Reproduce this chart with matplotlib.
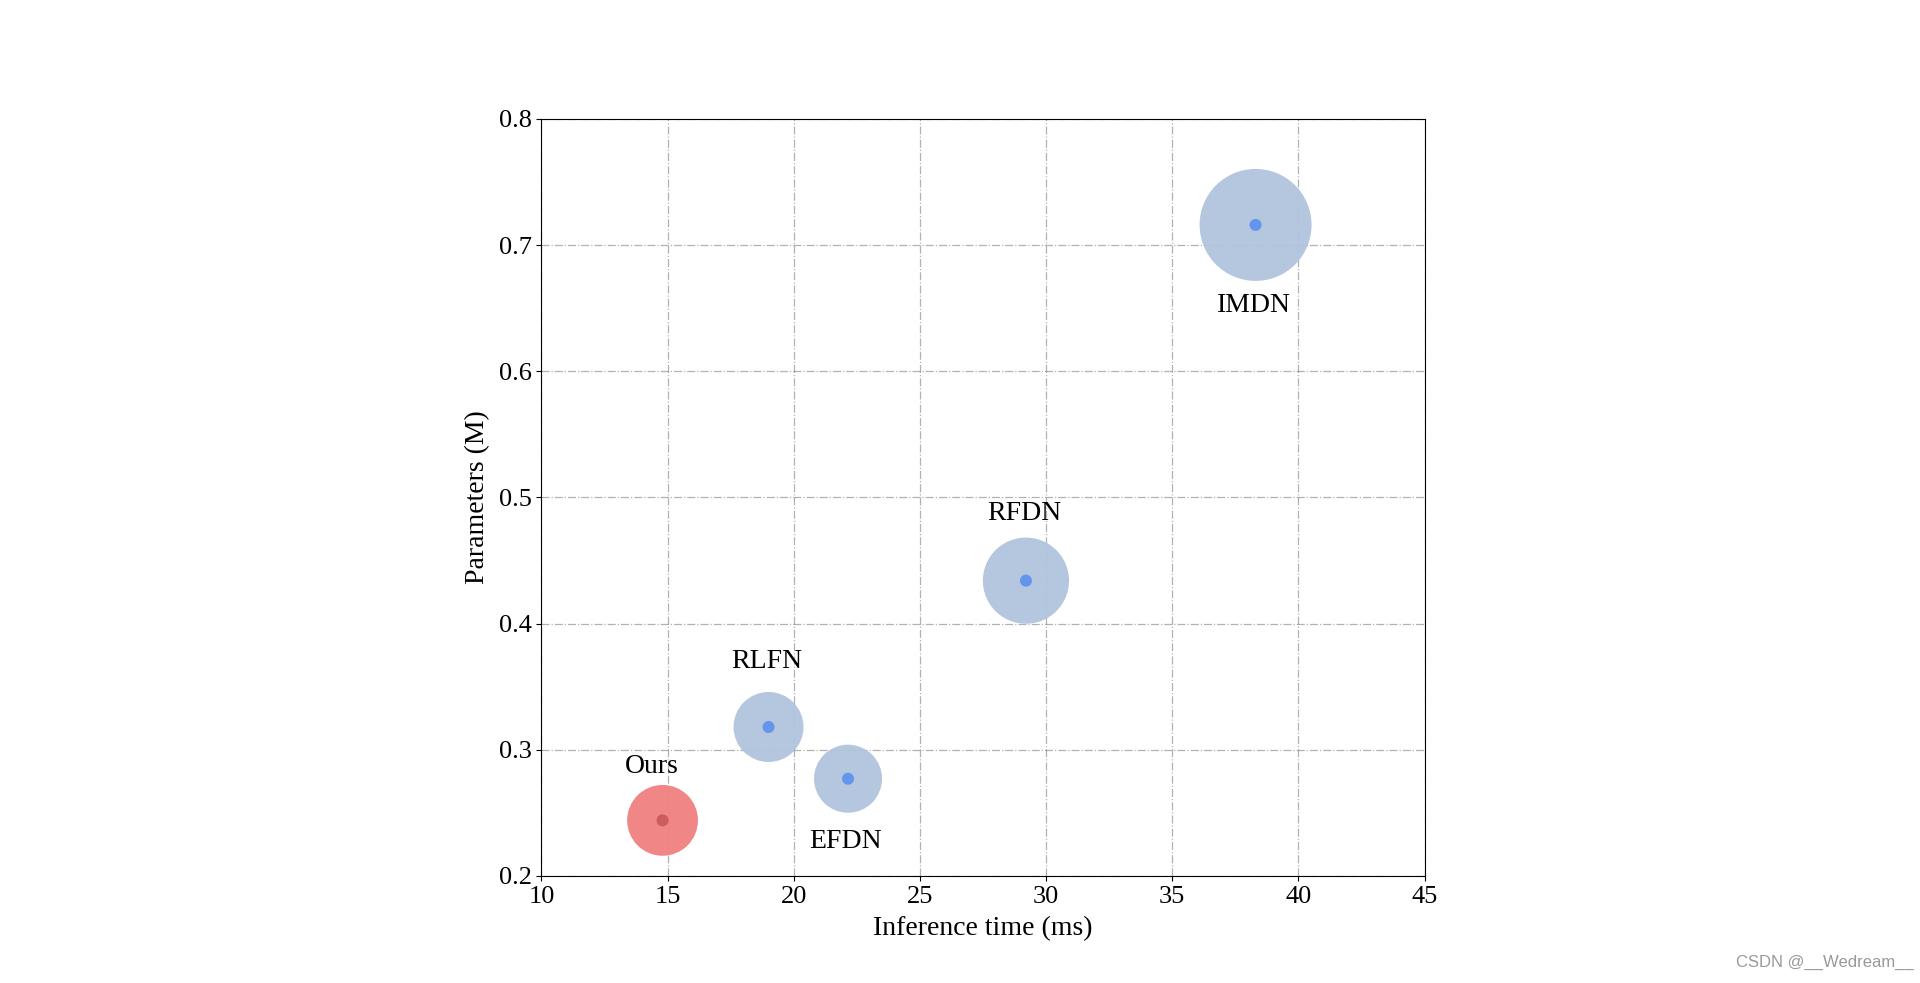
import matplotlib.pyplot as plt

plt.rcParams['font.family'] = ['Liberation Serif', 'DejaVu Serif']

# data
models = ['Ours', 'RLFN', 'EFDN', 'RFDN', 'IMDN']
inf_time = [14.8, 19.0, 22.15, 29.2, 38.3]      # ms
params = [0.244, 0.318, 0.277, 0.434, 0.716]    # M
bubble = [2600, 2540, 2400, 3850, 6500]         # bubble area (pt^2)
label_offset = [(-8, 39), (-1, 47), (-2, -45), (-1, 48), (-1, -58)]

big_colors = ['lightcoral', 'lightsteelblue', 'lightsteelblue', 'lightsteelblue', 'lightsteelblue']
dot_colors = ['indianred', 'cornflowerblue', 'cornflowerblue', 'cornflowerblue', 'cornflowerblue']

fig = plt.figure(figsize=(19.2, 9.83), dpi=100)
ax = fig.add_axes([0.282, 0.109, 0.460, 0.770])

ax.scatter(inf_time, params, s=bubble, c=big_colors, alpha=0.95, edgecolors='none', zorder=3)
ax.scatter(inf_time, params, s=75, c=dot_colors, edgecolors='none', zorder=4)

for name, x, y, off in zip(models, inf_time, params, label_offset):
    ax.annotate(name, (x, y), xytext=off, textcoords='offset points',
                ha='center', va='center', fontsize=20)

ax.set_xlim(10, 45)
ax.set_ylim(0.2, 0.8)
ax.set_xticks(range(10, 46, 5))
ax.set_yticks([0.2, 0.3, 0.4, 0.5, 0.6, 0.7, 0.8])
ax.tick_params(labelsize=19)
ax.set_xlabel('Inference time (ms)', fontsize=20, labelpad=6)
ax.set_ylabel('Parameters (M)', fontsize=20, labelpad=6)
ax.grid(True, linestyle='-.', color='gray', alpha=0.6, linewidth=0.9, zorder=0)
ax.set_axisbelow(True)

fig.text(0.997, 0.013, 'CSDN @__Wedream__', family='Liberation Sans',
         fontsize=12, color='#999999', ha='right', va='bottom')

fig.savefig('out.png', dpi=100)
